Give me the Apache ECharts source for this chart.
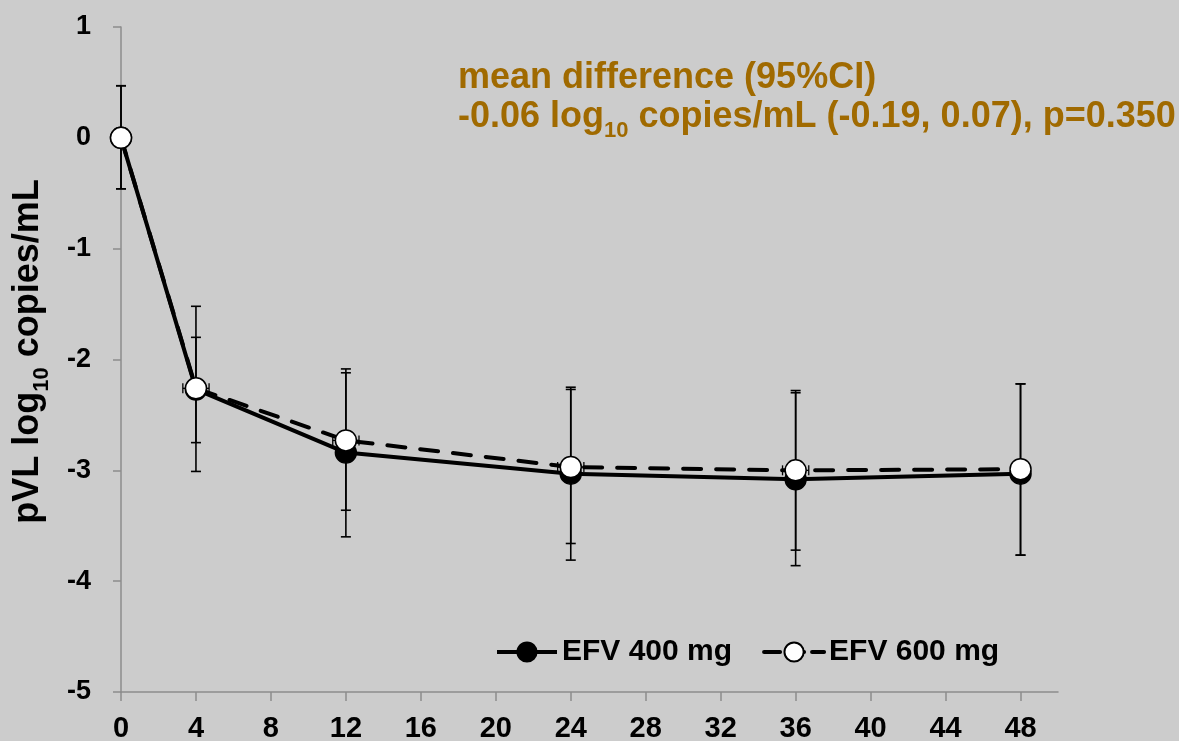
<!DOCTYPE html>
<html>
<head>
<meta charset="utf-8">
<script src="https://cdn.jsdelivr.net/npm/echarts@6/dist/echarts.min.js"></script>
<style>
html,body{margin:0;padding:0;background:#cccccc;}
#chart{width:1179px;height:741px;}
</style>
</head>
<body>
<div id="chart"></div>
<script>
// ---- data ----
var weeks = [0, 4, 12, 24, 36, 48];
var xTicks = [0, 4, 8, 12, 16, 20, 24, 28, 32, 36, 40, 44, 48];
var yTicks = [-5, -4, -3, -2, -1, 0, 1];

var efv400Mean = [0, -2.27, -2.84, -3.03, -3.08, -3.03];
var efv400Low  = [-0.46, -3.01, -3.60, -3.81, -3.86, -3.765];
var efv400High = [0.47, -1.52, -2.12, -2.25, -2.30, -2.22];

var efv600Mean = [0, -2.26, -2.73, -2.97, -3.00, -2.99];
var efv600Low  = [-0.46, -2.75, -3.36, -3.66, -3.72, -3.765];
var efv600High = [0.47, -1.80, -2.085, -2.27, -2.28, -2.22];
var efv600XErr = [0, 0.7, 0.7, 0.7, 0.7, 0];

var seriesNames = ['EFV 400 mg', 'EFV 600 mg'];
var annotLine1 = 'mean difference (95%CI)';
var annotLine2 = ['-0.06 log', '10', ' copies/mL (-0.19, 0.07), p=0.350'];
var yTitle = ['pVL log', '10', ' copies/mL'];

// ---- build ----
var FONT = '"Liberation Sans", Arial, sans-serif';
var ANNOT = '#a06a00';
function pts(xs, ys) { return xs.map(function (x, i) { return [x, ys[i]]; }); }
function errData(xs, lo, hi) { return xs.map(function (x, i) { return [x, lo[i], hi[i]]; }); }
function xerrData(xs, ys, e) {
  var out = [];
  xs.forEach(function (x, i) { if (e[i] > 0) out.push([x, ys[i], e[i]]); });
  return out;
}

function vErrRender(params, api) {
  var x = api.value(0), lo = api.value(1), hi = api.value(2);
  var pLo = api.coord([x, lo]), pHi = api.coord([x, hi]);
  var cw = 5;
  var st = { stroke: '#000', lineWidth: 1.6 };
  return {
    type: 'group',
    children: [
      { type: 'line', shape: { x1: pLo[0], y1: pLo[1], x2: pHi[0], y2: pHi[1] }, style: st },
      { type: 'line', shape: { x1: pLo[0] - cw, y1: pLo[1], x2: pLo[0] + cw, y2: pLo[1] }, style: st },
      { type: 'line', shape: { x1: pHi[0] - cw, y1: pHi[1], x2: pHi[0] + cw, y2: pHi[1] }, style: st }
    ]
  };
}
function hErrRender(params, api) {
  var x = api.value(0), y = api.value(1), e = api.value(2);
  var pL = api.coord([x - e, y]), pR = api.coord([x + e, y]);
  var ch = 5;
  var st = { stroke: '#000', lineWidth: 1.3 };
  return {
    type: 'group',
    children: [
      { type: 'line', shape: { x1: pL[0], y1: pL[1], x2: pR[0], y2: pR[1] }, style: st },
      { type: 'line', shape: { x1: pL[0], y1: pL[1] - ch, x2: pL[0], y2: pL[1] + ch }, style: st },
      { type: 'line', shape: { x1: pR[0], y1: pR[1] - ch, x2: pR[0], y2: pR[1] + ch }, style: st }
    ]
  };
}

var chart = echarts.init(document.getElementById('chart'), null, { renderer: 'canvas' });
var axisGray = '#8c8c8c';
var option = {
  backgroundColor: '#cccccc',
  animation: false,
  grid: { left: 121, right: 121, top: 27, bottom: 49, containLabel: false, outerBoundsMode: 'none' },
  legend: {
    left: 495,
    top: 637,
    padding: 0,
    itemWidth: 60,
    itemHeight: 24,
    itemGap: 30,
    data: [
      { name: seriesNames[0], lineStyle: { width: 4, color: '#000' } },
      { name: seriesNames[1], lineStyle: { width: 4, color: '#000', type: 'dashed' } }
    ],
    textStyle: { fontSize: 30, fontWeight: 'bold', color: '#000', fontFamily: FONT }
  },
  xAxis: {
    type: 'value',
    min: 0,
    max: 50,
    splitLine: { show: false },
    axisLine: { show: true, onZero: false, lineStyle: { color: axisGray, width: 1.5 } },
    axisTick: { show: true, length: 9, customValues: xTicks, lineStyle: { color: axisGray, width: 1.5 } },
    axisLabel: { customValues: xTicks, margin: 22, fontSize: 29, fontWeight: 'bold', color: '#000', fontFamily: FONT }
  },
  yAxis: {
    type: 'value',
    min: -5,
    max: 1,
    interval: 1,
    splitLine: { show: false },
    axisLine: { show: true, onZero: false, lineStyle: { color: axisGray, width: 1.5 } },
    axisTick: { show: true, length: 8, lineStyle: { color: axisGray, width: 1.5 } },
    axisLabel: { margin: 30, fontSize: 27, fontWeight: 'bold', color: '#000', fontFamily: FONT },
    name: '{n|' + yTitle[0] + '}{s|' + yTitle[1] + '}{n|' + yTitle[2] + '}',
    nameLocation: 'middle',
    nameRotate: 90,
    nameGap: 75,
    nameTextStyle: {
      padding: [0, 0, 0, 16],
      rich: {
        n: { fontSize: 36, fontWeight: 'bold', fontFamily: FONT, lineHeight: 36, color: '#000' },
        s: { fontSize: 22, fontWeight: 'bold', fontFamily: FONT, lineHeight: 22, padding: [27, 0, 0, 0], color: '#000' }
      }
    }
  },
  graphic: [
    {
      type: 'text', left: 458, top: 60, z: 100,
      style: { text: annotLine1, fontSize: 36, fontWeight: 'bold', fontFamily: FONT, fill: ANNOT }
    },
    {
      type: 'text', left: 458, top: 92, z: 100,
      style: {
        text: '{n|' + annotLine2[0] + '}{s|' + annotLine2[1] + '}{n|' + annotLine2[2] + '}',
        fill: ANNOT,
        rich: {
          n: { fontSize: 36, fontWeight: 'bold', fontFamily: FONT, lineHeight: 36, fill: ANNOT },
          s: { fontSize: 22, fontWeight: 'bold', fontFamily: FONT, lineHeight: 22, padding: [28, 0, 0, 0], fill: ANNOT }
        }
      }
    }
  ],
  series: [
    {
      type: 'custom', name: 'err400', renderItem: vErrRender, z: 1, silent: true,
      data: errData(weeks, efv400Low, efv400High), encode: { x: 0, y: [1, 2] }
    },
    {
      type: 'custom', name: 'err600', renderItem: vErrRender, z: 1, silent: true,
      data: errData(weeks, efv600Low, efv600High), encode: { x: 0, y: [1, 2] }
    },
    {
      type: 'custom', name: 'xerr600', renderItem: hErrRender, z: 1, silent: true,
      data: xerrData(weeks, efv600Mean, efv600XErr), encode: { x: 0, y: 1 }
    },
    {
      type: 'line', name: seriesNames[0], z: 2,
      data: pts(weeks, efv400Mean),
      symbol: 'circle', symbolSize: 21,
      lineStyle: { color: '#000', width: 4 },
      itemStyle: { color: '#000', borderColor: '#000', borderWidth: 1.5 }
    },
    {
      type: 'line', name: seriesNames[1], z: 3,
      data: pts(weeks, efv600Mean),
      symbol: 'circle', symbolSize: 21,
      lineStyle: { color: '#000', width: 4, type: [18, 15], cap: 'round' },
      itemStyle: { color: '#ffffff', borderColor: '#000', borderWidth: 1.5 }
    }
  ]
};
chart.setOption(option);
</script>
</body>
</html>
